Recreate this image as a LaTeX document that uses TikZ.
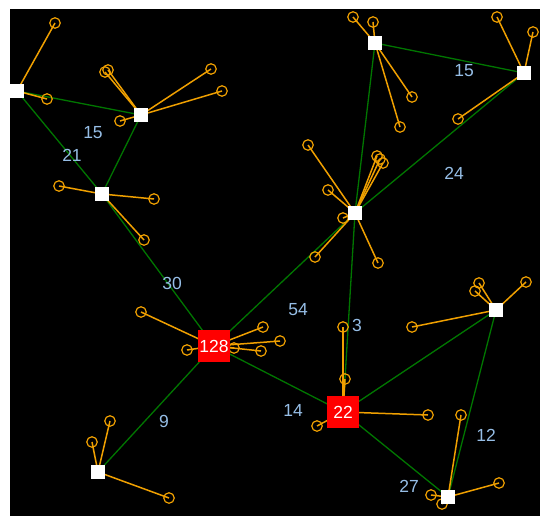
\documentclass[tikz,border=0pt]{standalone}
\usepackage{fontspec}
\setmainfont{Liberation Sans}
\usetikzlibrary{backgrounds}
\definecolor{trunkgreen}{RGB}{0,118,0}
\definecolor{twigorange}{RGB}{240,160,0}
\definecolor{weightblue}{RGB}{150,190,230}

\begin{document}
\begin{tikzpicture}[x=1pt,y=-1pt,
  hub/.style={fill=white,minimum size=14pt,inner sep=0pt},
  hot/.style={fill=red,minimum size=32pt,inner sep=0pt,text=white,
    font=\fontsize{17.5}{17.5}\selectfont},
  leaf/.style={draw=twigorange,circle,minimum size=10.5pt,inner sep=0pt,line width=1.2pt},
  trunk/.style={draw=trunkgreen,line width=1.3pt},
  twig/.style={draw=twigorange,line width=1.5pt},
  weight/.style={text=weightblue,font=\fontsize{17.5}{17.5}\selectfont}]
  \useasboundingbox (0,0) rectangle (540,516);

  \foreach \n/\x/\y in {a1/55/23, a2/47/99,
      b1/105/72, b2/108/70, b3/211/69, b4/222/91, b5/120/121,
      c1/59/186, c2/154/199, c3/144/240,
      d1/353/17, d2/373/22, d3/412/97, d4/400/127,
      e1/497/17, e2/533/32, e3/458/119,
      f1/308/145, f2/328/190, f3/343/218, f4/315/257, f5/378/263,
      f6/377/156, f7/380/159, f8/383/163,
      g1/141/312, g2/187/350, g3/263/327, g4/280/341, g5/261/351, g6/234/348,
      h1/343/327, h2/345/379, h3/428/415, h4/317/426,
      i1/479/283, i2/475/291, i3/526/282, i4/412/327,
      j1/461/415, j2/499/483, j3/431/495, j4/442/504,
      k1/110/421, k2/92/442, k3/169/498}
    \node[leaf] (\n) at (\x,\y) {};

  \node[hub] (a) at (17,91) {};
  \node[hub] (b) at (141,115) {};
  \node[hub] (c) at (102,194) {};
  \node[hub] (d) at (375,43) {};
  \node[hub] (e) at (524,73) {};
  \node[hub] (f) at (355,213) {};
  \node[hot] (g) at (214,346) {128};
  \node[hot] (h) at (343,412) {22};
  \node[hub] (i) at (496,310) {};
  \node[hub] (j) at (448,497) {};
  \node[hub] (k) at (98,472) {};

  \node[weight] (w1) at (93,133) {15};
  \node[weight] (w2) at (72,155) {21};
  \node[weight] (w3) at (464,71) {15};
  \node[weight] (w4) at (454,173) {24};
  \node[weight] (w5) at (172,283) {30};
  \node[weight] (w6) at (164,421) {9};
  \node[weight] (w7) at (298,310) {54};
  \node[weight] (w8) at (357,325) {3};
  \node[weight] (w9) at (293,410) {14};
  \node[weight] (w10) at (486,435) {12};
  \node[weight] (w11) at (409,486) {27};

  \begin{pgfonlayer}{background}
    \fill[white] (0,0) rectangle (540,516);
    \fill[black] (10,9) rectangle (540,516);
    \path[trunk]
      (a.center) edge (b.center) edge (c.center)
      (b.center) edge (c.center)
      (c.center) edge (g.center)
      (d.center) edge (e.center) edge (f.center)
      (e.center) edge (f.center)
      (f.center) edge (g.center) edge (h.center)
      (g.center) edge (h.center) edge (k.center)
      (h.center) edge (i.center) edge (j.center)
      (i.center) edge (j.center);
    \path[twig]
      (a.center) edge (a1.center) edge (a2.center)
      (b.center) edge (b1.center) edge (b2.center) edge (b3.center)
        edge (b4.center) edge (b5.center)
      (c.center) edge (c1.center) edge (c2.center) edge (c3.center)
      (d.center) edge (d1.center) edge (d2.center) edge (d3.center)
        edge (d4.center)
      (e.center) edge (e1.center) edge (e2.center) edge (e3.center)
      (f.center) edge (f1.center) edge (f2.center) edge (f3.center)
        edge (f4.center) edge (f5.center) edge (f6.center)
        edge (f7.center) edge (f8.center)
      (g.center) edge (g1.center) edge (g2.center) edge (g3.center)
        edge (g4.center) edge (g5.center) edge (g6.center)
      (h.center) edge (h1.center) edge (h2.center) edge (h3.center)
        edge (h4.center)
      (i.center) edge (i1.center) edge (i2.center) edge (i3.center)
        edge (i4.center)
      (j.center) edge (j1.center) edge (j2.center) edge (j3.center)
        edge (j4.center)
      (k.center) edge (k1.center) edge (k2.center) edge (k3.center);
  \end{pgfonlayer}
\end{tikzpicture}
\end{document}
